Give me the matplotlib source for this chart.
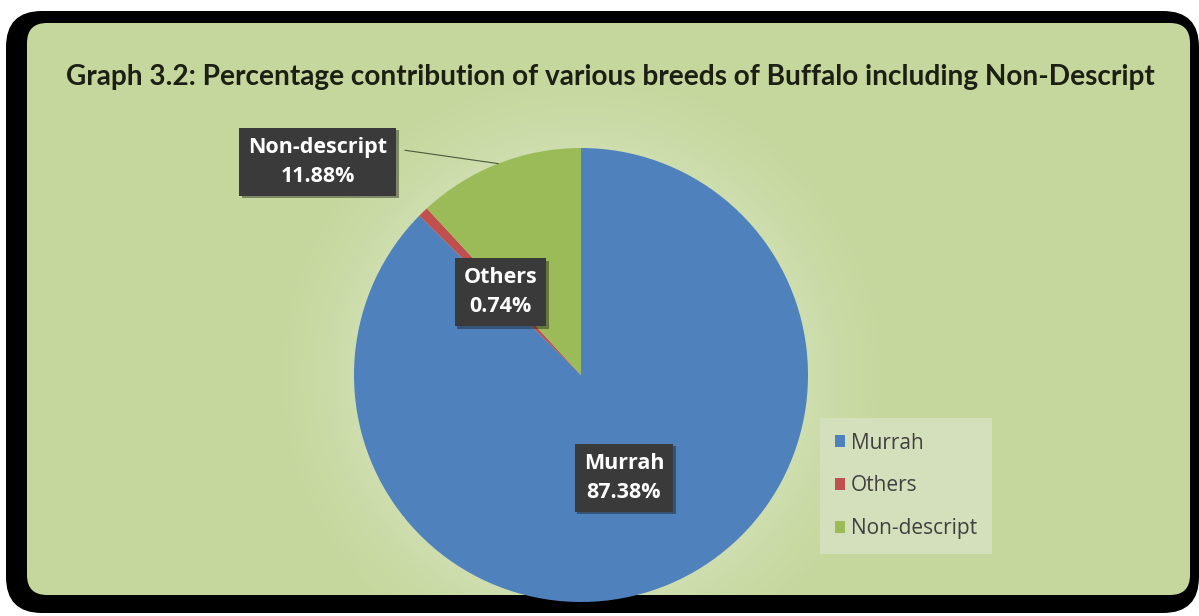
import numpy as np
import matplotlib.pyplot as plt
from matplotlib.patches import FancyBboxPatch
from matplotlib import patheffects as pe

breeds = ['Murrah', 'Others', 'Non-descript']
shares = [87.38, 0.74, 11.88]
colors = ['#4f81bd', '#c0504d', '#9bbb59']
title = 'Graph 3.2: Percentage contribution of various breeds of Buffalo including Non-Descript'

W, H = 1199, 616
fig = plt.figure(figsize=(W / 100, H / 100), dpi=100)
fig.patch.set_facecolor('white')

# background in pixel coordinates
bg = fig.add_axes([0, 0, 1, 1])
bg.set_xlim(0, W)
bg.set_ylim(H, 0)
bg.axis('off')

outer = FancyBboxPatch((6, 11), 1193, 602, boxstyle='round,pad=0,rounding_size=36',
                       fc='black', ec='none')
bg.add_patch(outer)
inner = FancyBboxPatch((27, 23), 1163, 572, boxstyle='round,pad=0,rounding_size=20',
                       fc='#c5d79c', ec='none')
bg.add_patch(inner)

# soft glow round the pie
cx, cy, R = 581, 375, 227
yy, xx = np.mgrid[0:H, 0:W]
d = np.hypot(xx - cx, yy - cy)
a = np.clip(1 - (d - R) / 100.0, 0, 1) ** 1.5 * 0.55
glow = np.zeros((H, W, 4))
glow[..., :3] = np.array([0xd6, 0xe3, 0xbd]) / 255
glow[..., 3] = a
im = bg.imshow(glow, extent=(0, W, H, 0), origin='upper', zorder=2)
im.set_clip_path(inner)
bg.set_xlim(0, W)
bg.set_ylim(H, 0)

bg.text(610, 77, title, ha='center', va='center', fontsize=20.2, fontweight='bold',
        family='Lato', color='#1c1f14', zorder=5)

# pie
ax = fig.add_axes([(cx - R) / W, (H - cy - R) / H, 2 * R / W, 2 * R / H])
ax.set_zorder(3)
wedges, _ = ax.pie(shares, colors=colors, startangle=90, counterclock=False,
                   radius=1, wedgeprops=dict(linewidth=0))
for w in wedges:
    w.set_clip_path(inner)
ax.set_xlim(-1, 1)
ax.set_ylim(-1, 1)
ax.set_aspect('equal')
ax.axis('off')

mids = [np.deg2rad((w.theta1 + w.theta2) / 2) for w in wedges]
label_pos = [(0.49 * np.cos(mids[0]), 0.49 * np.sin(mids[0])),
             (0.51 * np.cos(mids[1]), 0.51 * np.sin(mids[1])),
             (-1.16, 0.94)]

# leader line for the outside label
ax.plot([-0.775, np.cos(mids[2])], [0.99, np.sin(mids[2])], color='#4a5a3a', lw=0.8,
        clip_on=False)

for (x, y), b, s in zip(label_pos, breeds, shares):
    t = ax.text(x, y, f'{b}\n{s:.2f}%', ha='center', va='center', color='white',
                fontsize=15.5, fontweight='bold', family='Open Sans', linespacing=1.5,
                bbox=dict(boxstyle='square,pad=0.42', fc='#3a3a3a', ec='none'),
                clip_on=False, zorder=6)
    t.get_bbox_patch().set_path_effects([pe.SimplePatchShadow(offset=(2, -2), alpha=0.4),
                                         pe.Normal()])

leg = fig.legend(wedges, breeds, loc='upper left', bbox_to_anchor=(820 / W, 1 - 418 / H),
                 frameon=True, facecolor='#d3e0bb', edgecolor='none', framealpha=1,
                 fancybox=False, prop=dict(family='Open Sans', size=15),
                 labelspacing=1.05, handlelength=0.5, handleheight=0.5,
                 handletextpad=0.3, borderpad=0.7, borderaxespad=0)
for txt in leg.get_texts():
    txt.set_color('#404040')

fig.savefig('out.png', dpi=100)
